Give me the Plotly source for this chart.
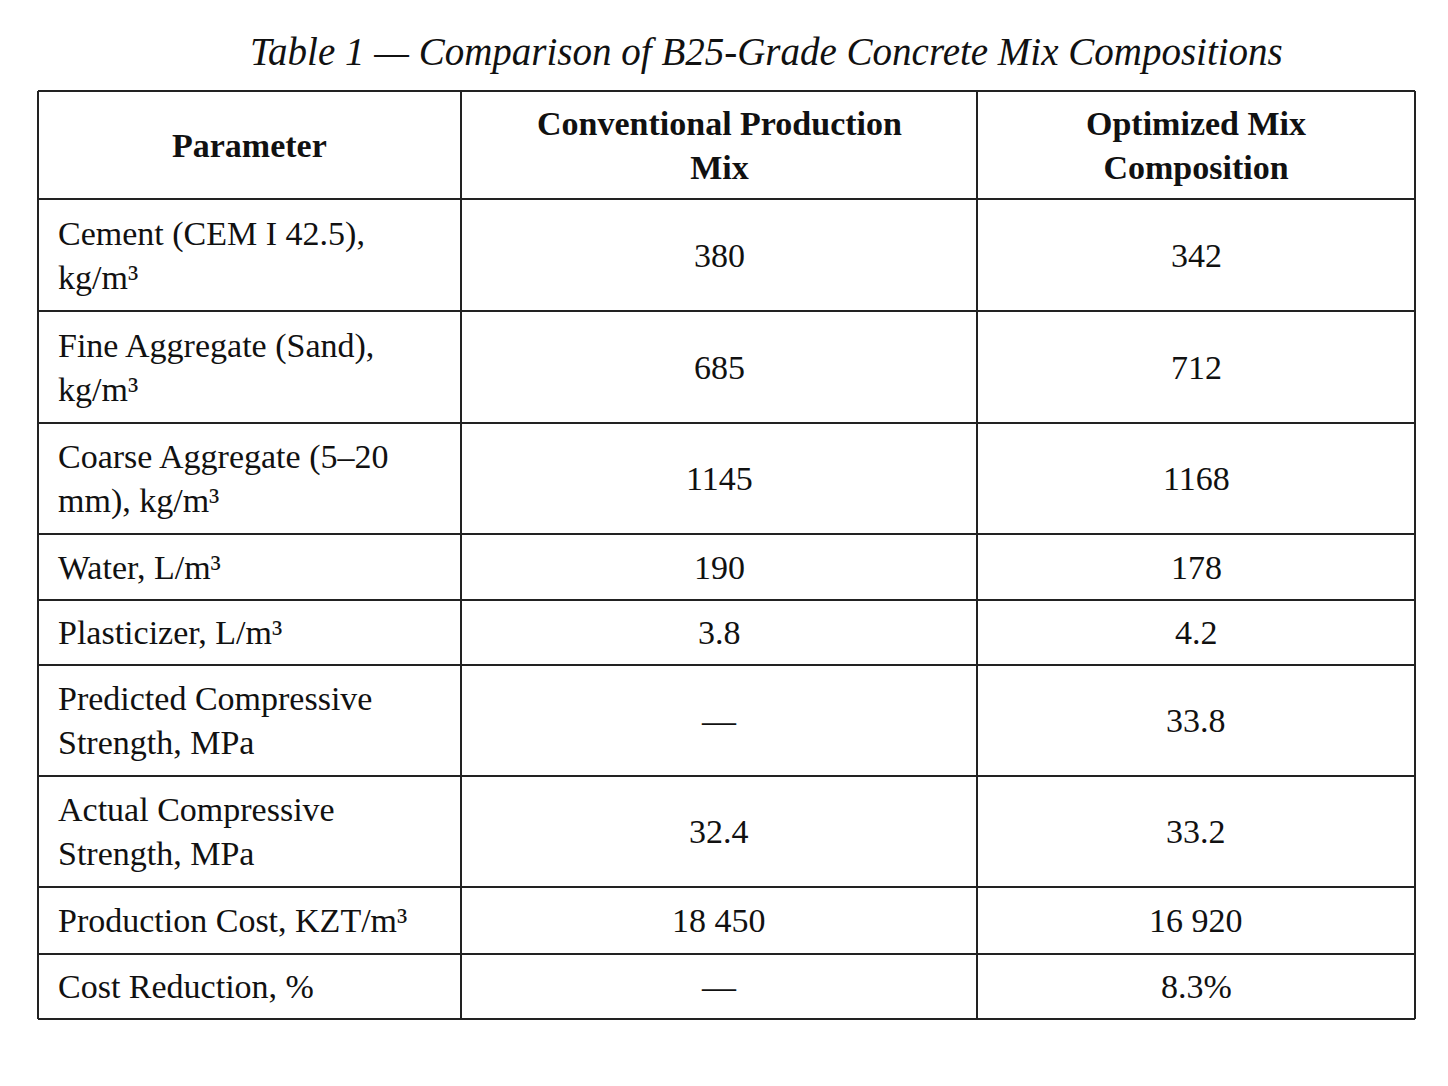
import plotly.graph_objects as go

# Table data
headers = ["<b>Parameter</b>", "<b>Conventional Production<br>Mix</b>", "<b>Optimized Mix<br>Composition</b>"]
parameters = [
    "Cement (CEM I 42.5),<br>kg/m³",
    "Fine Aggregate (Sand),<br>kg/m³",
    "Coarse Aggregate (5–20<br>mm), kg/m³",
    "Water, L/m³",
    "Plasticizer, L/m³",
    "Predicted Compressive<br>Strength, MPa",
    "Actual Compressive<br>Strength, MPa",
    "Production Cost, KZT/m³",
    "Cost Reduction, %",
]
conventional = ["380", "685", "1145", "190", "3.8", "—", "32.4", "18 450", "—"]
optimized = ["342", "712", "1168", "178", "4.2", "33.8", "33.2", "16 920", "8.3%"]

W, H = 1448, 1086
OFF = 8  # page body margin
# grid geometry in page pixels
col_x = [38, 461, 977, 1415]
row_y = [91, 199, 311, 423, 534, 600, 665, 776, 887, 954, 1019]

FONT = "Liberation Serif, Times New Roman, serif"
fs = 34
ink = "#111"

fig = go.Figure()
shapes = []
for x in col_x:
    shapes.append(dict(type="line", x0=x, x1=x, y0=row_y[0], y1=row_y[-1],
                       line=dict(color="#222", width=2)))
for y in row_y:
    shapes.append(dict(type="line", x0=col_x[0], x1=col_x[-1], y0=y, y1=y,
                       line=dict(color="#222", width=2)))

ann = []
# header
for i, h in enumerate(headers):
    ann.append(dict(x=(col_x[i] + col_x[i + 1]) / 2, y=(row_y[0] + row_y[1]) / 2,
                    text=h, showarrow=False, xanchor="center", yanchor="middle",
                    align="center", font=dict(family=FONT, size=fs, color=ink)))
# body
for r in range(len(parameters)):
    yc = (row_y[r + 1] + row_y[r + 2]) / 2
    ann.append(dict(x=col_x[0] + 18, y=yc, text=parameters[r], showarrow=False,
                    xanchor="left", yanchor="middle", align="left",
                    font=dict(family=FONT, size=fs, color=ink)))
    for c, vals in ((1, conventional), (2, optimized)):
        ann.append(dict(x=(col_x[c] + col_x[c + 1]) / 2, y=yc, text=vals[r], showarrow=False,
                        xanchor="center", yanchor="middle",
                        font=dict(family=FONT, size=fs, color=ink)))
# title
ann.append(dict(x=766, y=52, text="<i>Table 1 — Comparison of B25-Grade Concrete Mix Compositions</i>",
                showarrow=False, xanchor="center", yanchor="middle",
                font=dict(family=FONT, size=39, color=ink)))

fig.update_layout(
    width=W, height=H,
    margin=dict(l=0, r=0, t=0, b=0),
    paper_bgcolor="white", plot_bgcolor="white",
    xaxis=dict(range=[OFF, OFF + W], visible=False, fixedrange=True),
    yaxis=dict(range=[OFF + H, OFF], visible=False, fixedrange=True),
    shapes=shapes, annotations=ann, showlegend=False,
)

fig.write_html("out.html")
